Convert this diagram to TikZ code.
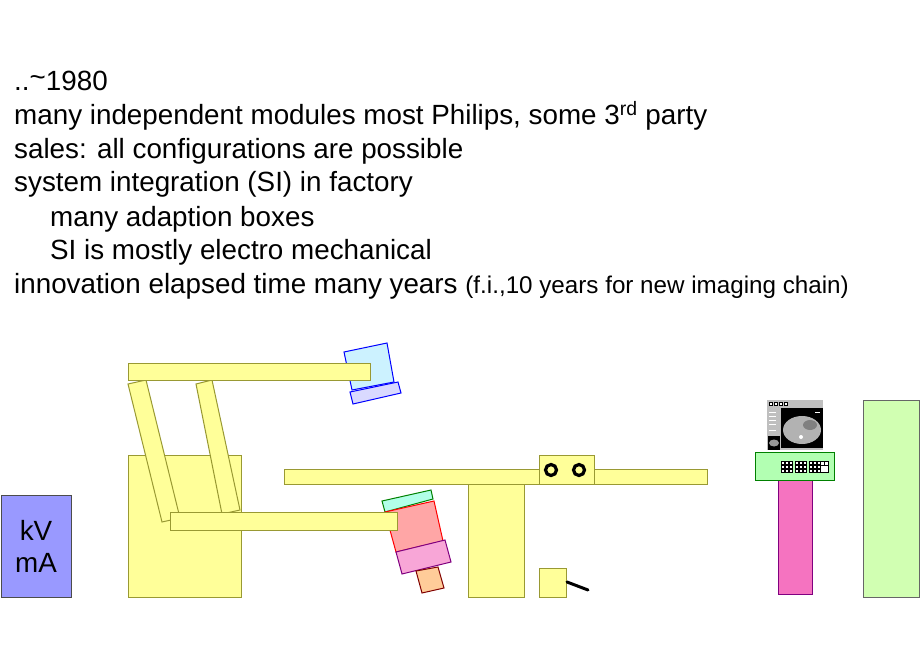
\documentclass[tikz,border=0pt]{standalone}
\usepackage{fontspec}
\setmainfont{Liberation Sans}
\definecolor{ylw}{HTML}{FFFF99}
\definecolor{olv}{HTML}{999933}
\tikzset{
  part/.style={draw=olv, fill=ylw, line width=1pt},
  txt/.style={anchor=base west, inner sep=0pt, font=\fontsize{27.8}{32}\selectfont}
}
\begin{document}
\begin{tikzpicture}[x=1pt, y=-1pt]
\useasboundingbox (0,0) rectangle (920,660);

% Text lines
\node[txt] (l1) at (14,91) {..\raisebox{0.3ex}{\char"7E}1980};
\node[txt] (l2) at (14,125) {many independent modules most Philips, some 3\textsuperscript{rd} party};
\node[txt] (l3) at (14,159) {sales: all configurations are possible};
\node[txt] (l4) at (14,192) {system integration (SI) in factory};
\node[txt] (l5) at (50,226) {many adaption boxes};
\node[txt] (l6) at (50,259) {SI is mostly electro mechanical};
\node[txt] (l7) at (14,293) {innovation elapsed time many years {\fontsize{24.2}{28}\selectfont (f.i.,10 years for new imaging chain)}};

% Generator
\draw[draw=black!70, fill=blue!40!white, line width=1pt] (1,495) rectangle (71,597);
\node[font=\fontsize{27.8}{32}\selectfont, align=center] (kv) at (36,546) {kV\\mA};

% Stand
\draw[part] (128,455) rectangle (241,597);
\draw[part] (128,384) -- (146,380) -- (180,518) -- (162,522) -- cycle;
\draw[part] (196,384) -- (212,380) -- (240,510) -- (222,514) -- cycle;
% Detector (behind arm)
\draw[draw=blue, fill=blue!25!cyan!20!white, line width=1pt] (344,352) -- (387,343) -- (394,382) -- (352,390) -- cycle;
\draw[draw=blue, fill=blue!15, line width=1pt] (350,392) -- (398,382) -- (401,393) -- (353,404) -- cycle;
\draw[part] (128,363) rectangle (370,380);

% Tube stack
\draw[draw=green!50!black, fill=green!30!cyan!30!white, line width=1pt] (382,501) -- (431,490) -- (433,499) -- (385,512) -- cycle;
\draw[draw=red, fill=red!35, line width=1pt] (385,512) -- (434,501) -- (443,541) -- (396,552) -- cycle;
\draw[draw=violet, fill=magenta!35, line width=1pt] (396,552) -- (445,540) -- (451,562) -- (402,574) -- cycle;
\draw[draw=red!50!black, fill=orange!40, line width=1pt] (416,571) -- (438,567) -- (444,588) -- (422,593) -- cycle;
\draw[part] (170,512) rectangle (397,530);

% Table
\draw[part] (468,484) rectangle (524,597);
\draw[part] (284,469) rectangle (707,484);
\draw[part] (539,455) rectangle (594,484);
\draw[line width=3.2pt] (551,470) circle (5.5);
\draw[line width=3.2pt] (579,470) circle (5.5);
\draw[part] (539,568) rectangle (566,597);
\draw[line width=3pt, line cap=round] (567,582) -- (588,590);

% Console
\draw[draw=violet, fill=magenta!55!white, line width=1pt] (778,480) rectangle (812,594);
\draw[draw=green!50!black, fill=green!30, line width=1pt] (755,452) rectangle (834,480);
\foreach \c in {0,1,2} \foreach \i in {0,1,2} \foreach \j in {0,1,2}
  \draw[fill=white, line width=0.6pt] (781+\c*14+\i*4,461+\j*4) rectangle +(3,3);
\draw[fill=white, line width=0.6pt] (820,461) rectangle (828,472);
\draw (820,465) -- (828,465) (824,461) -- (824,465);
% Monitor
\fill[black!25] (767,400) rectangle (823,450);
\fill[black] (781,408) rectangle (823,448);
\fill[black!30] (802,430) ellipse (19 and 14);
\fill[black!50] (810,425) ellipse (7 and 5);
\fill[white] (801,437) circle (2);
\foreach \i in {0,1,2,3} \draw[line width=0.6pt, fill=white] (769+\i*5,402) rectangle +(3,3);
\foreach \yy in {412,416,420,424,430,436} \draw[white, line width=0.7pt] (769,\yy) -- (776,\yy);
\fill[black] (768,436) rectangle (780,450);
\fill[black!40] (774,443) ellipse (5 and 3.5);
\draw[white] (815,412) -- (820,412);

% Cabinet
\draw[draw=black!60, fill=green!60!yellow!30, line width=1pt] (863,400) rectangle (919,597);
\end{tikzpicture}
\end{document}
